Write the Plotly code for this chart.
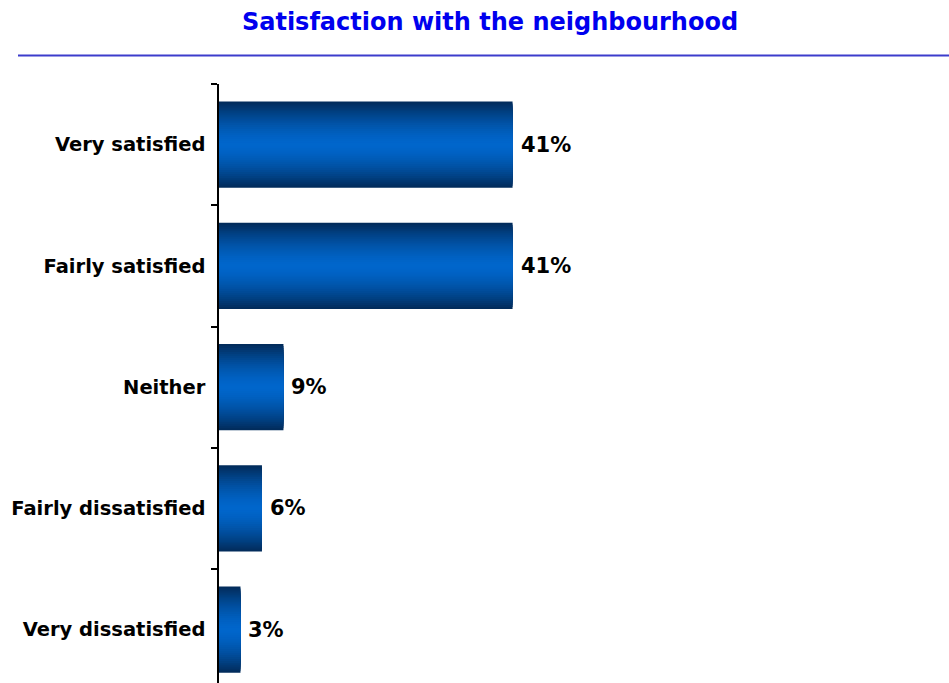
import plotly.graph_objects as go

# Survey results: satisfaction with the neighbourhood (% of respondents)
categories = [
    "Very satisfied",
    "Fairly satisfied",
    "Neither",
    "Fairly dissatisfied",
    "Very dissatisfied",
]
values = [41, 41, 9, 6, 3]
value_labels = ["41%", "41%", "9%", "6%", "3%"]

FONT = "DejaVu Sans"
BAR_WIDTH = 0.71
N_LAYERS = 22

EDGE = (2, 44, 92)      # dark navy at top/bottom edges of each bar
CENTRE = (0, 102, 204)  # bright blue along the middle of each bar


def shade(t):
    """Colour at normalised distance t from bar centre (0 centre, 1 edge)."""
    k = t ** 1.6
    r, g, b = (round(c + (e - c) * k) for c, e in zip(CENTRE, EDGE))
    return f"rgb({r},{g},{b})"


fig = go.Figure()

# Horizontal bars with a vertical shading: stacked overlays of narrowing bars
for i in range(N_LAYERS):
    frac = 1 - i / N_LAYERS
    fig.add_trace(go.Bar(
        y=categories,
        x=values,
        orientation="h",
        width=BAR_WIDTH * frac,
        marker=dict(color=shade(frac), line=dict(width=0)),
        hoverinfo="skip",
        showlegend=False,
    ))

# Value labels to the right of each bar
annotations = [
    dict(
        x=v, y=c, xref="x", yref="y",
        text=f"<b>{lab}</b>",
        showarrow=False,
        xanchor="left", yanchor="middle",
        xshift=6,
        font=dict(family=FONT, size=21, color="#000000"),
    )
    for c, v, lab in zip(categories, values, value_labels)
]

fig.update_layout(
    width=949,
    height=683,
    barmode="overlay",
    plot_bgcolor="white",
    paper_bgcolor="white",
    margin=dict(l=219, r=14, t=84, b=0),
    title=dict(
        text="<b>Satisfaction with the neighbourhood</b>",
        font=dict(family=FONT, size=24, color="#0000EE"),
        x=490 / 949,
        xanchor="center",
        y=1 - 22 / 683,
        yanchor="middle",
    ),
    xaxis=dict(
        range=[0, 100],
        visible=False,
        showgrid=False,
        zeroline=False,
    ),
    yaxis=dict(
        type="category",
        categoryorder="array",
        categoryarray=categories,
        range=[4.44, -0.5],
        showline=True,
        linecolor="#000000",
        linewidth=1.5,
        ticks="outside",
        tickson="boundaries",
        ticklen=6,
        tickcolor="#000000",
        tickwidth=1.5,
        ticklabelstandoff=8,
        showgrid=False,
        tickfont=dict(family=FONT, size=19.5, color="#000000", weight="bold"),
    ),
    annotations=annotations,
    shapes=[
        dict(
            type="line",
            xref="paper", yref="paper",
            x0=(18 - 219) / 716, x1=(949 - 219) / 716,
            y0=1 + (84 - 55.5) / 599, y1=1 + (84 - 55.5) / 599,
            line=dict(color="#3c3ccc", width=2),
        )
    ],
)

fig.write_html("out.html")
